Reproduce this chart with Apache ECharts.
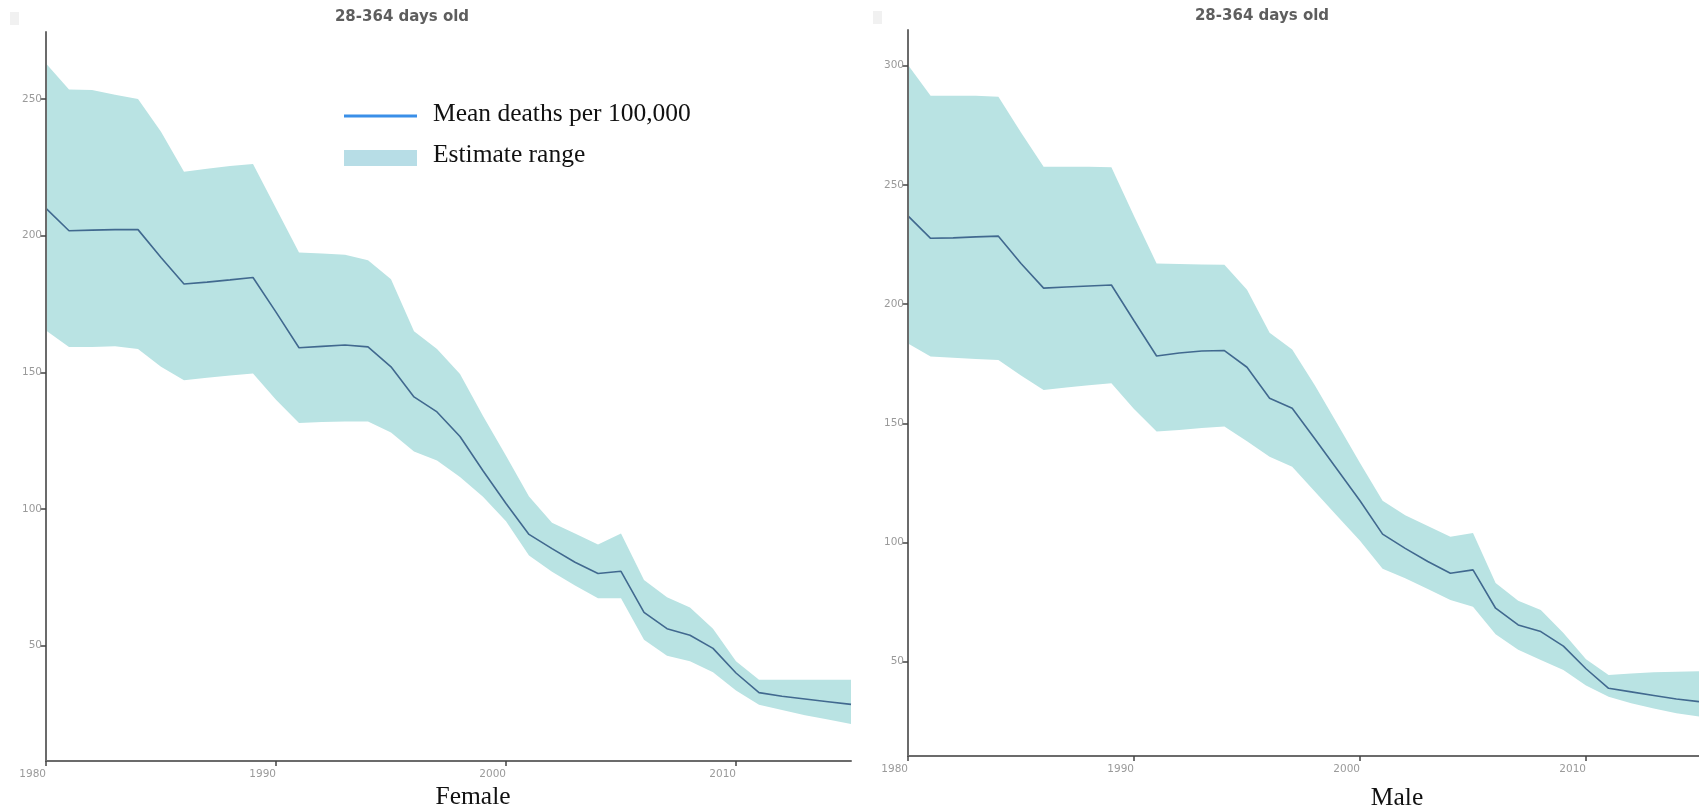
<!DOCTYPE html>
<html>
<head>
<meta charset="utf-8">
<script src="https://cdn.jsdelivr.net/npm/echarts@6/dist/echarts.min.js"></script>
<style>
  html, body { margin: 0; padding: 0; background: #fff; }
  #chart { width: 1699px; height: 810px; }
</style>
</head>
<body>
<div id="chart"></div>
<script>
// values (deaths per 100,000, 28-364 days old)
const years = ['1980', '1981', '1982', '1983', '1984', '1985', '1986', '1987', '1988', '1989',
               '1990', '1991', '1992', '1993', '1994', '1995', '1996', '1997', '1998', '1999',
               '2000', '2001', '2002', '2003', '2004', '2005', '2006', '2007', '2008', '2009',
               '2010', '2011', '2012', '2013', '2014', '2015'];

const femaleMean  = [210, 201.8, 202, 202.2, 202.2, 192, 182.3, 183, 183.8, 184.7,
                     172, 159, 159.5, 160, 159.3, 152, 141, 135.5, 126.5, 114,
                     102, 90.7, 85.5, 80.5, 76.4, 77.2, 62.2, 56.2, 53.8, 49,
                     40, 32.8, 31.5, 30.5, 29.5, 28.5];
const femaleUpper = [263, 253.5, 253.3, 251.5, 250, 238, 223.4, 224.5, 225.5, 226.2,
                     210, 193.8, 193.5, 193, 191, 184, 165, 158.5, 149.4, 134,
                     119.5, 104.6, 95, 91, 87, 91, 74, 67.7, 64, 56.2,
                     44.3, 37.5, 37.5, 37.5, 37.5, 37.5];
const femaleLower = [165.3, 159.3, 159.3, 159.5, 158.5, 152, 147.1, 148, 148.8, 149.6,
                     140, 131.5, 131.8, 132, 132, 128, 121, 117.7, 111.7, 104.5,
                     95.5, 83, 77, 72, 67.3, 67.3, 52.2, 46.3, 44.3, 40.3,
                     33.6, 28.4, 26.5, 24.5, 23, 21.3];

const maleMean  = [237, 227.6, 227.8, 228.2, 228.5, 217, 206.7, 207.2, 207.6, 208,
                   193, 178.2, 179.5, 180.3, 180.5, 173.5, 160.5, 156.3, 143.5, 130.5,
                   117.5, 103.5, 97.5, 92, 87.1, 88.5, 72.4, 65.4, 62.6, 56.5,
                   47, 38.8, 37.3, 35.8, 34.3, 33.2];
const maleUpper = [300.3, 287.4, 287.4, 287.4, 287, 272, 257.6, 257.6, 257.6, 257.4,
                   237, 217, 216.8, 216.6, 216.5, 206, 188, 181, 166, 149.7,
                   133.3, 117.5, 111.4, 106.9, 102.4, 104, 83, 75.5, 71.7, 62,
                   51, 44.4, 45, 45.5, 45.8, 46];
const maleLower = [183.5, 178, 177.5, 177, 176.5, 170, 164, 165, 166, 166.8,
                   156, 146.5, 147.2, 148, 148.6, 142.5, 136, 131.8, 121.4, 111,
                   100.7, 89, 85, 80.5, 75.9, 73, 61.5, 55, 50.7, 46.5,
                   40, 35.3, 32.5, 30.3, 28.3, 27];

const xTicks = ['1980', '1990', '2000', '2010'];
const femaleYTicks = [50, 100, 150, 200, 250];
const maleYTicks = [50, 100, 150, 200, 250, 300];

const panelTitle = '28-364 days old';
const legendNames = ['Mean deaths per 100,000', 'Estimate range'];
const panelNames = ['Female', 'Male'];

const BAND = '#b9e3e3';
const LINE = '#41698f';
const SERIF = '"Liberation Serif", "DejaVu Serif", serif';

function isTick(idx, val) {
    return xTicks.indexOf(String(val)) >= 0;
}
function diffs(hi, lo) {
    return hi.map((v, i) => +(v - lo[i]).toFixed(2));
}

function xAxisFor(gridIndex) {
    return {
        type: 'category', gridIndex: gridIndex, data: years, boundaryGap: false, z: 5,
        axisLine: { show: true, lineStyle: { color: '#6b6b6b', width: 2 } },
        axisTick: { show: true, interval: isTick, length: 5, lineStyle: { color: '#444', width: 1.5 } },
        axisLabel: { interval: isTick, align: 'right', margin: 8, color: '#9a9a9a',
                     fontSize: 10.5, fontFamily: 'DejaVu Sans' },
        splitLine: { show: false }
    };
}
function yAxisFor(gridIndex, min, max, ticks) {
    return {
        type: 'value', gridIndex: gridIndex, min: min, max: max, z: 5,
        axisLine: { show: true, lineStyle: { color: '#6b6b6b', width: 2 } },
        axisTick: { show: true, customValues: ticks, length: 6, lineStyle: { color: '#444', width: 1.5 } },
        axisLabel: { customValues: ticks, margin: 4, color: '#9a9a9a',
                     fontSize: 10.5, fontFamily: 'DejaVu Sans' },
        splitLine: { show: false }
    };
}
function bandSeries(idx, lower, upper, stack) {
    return [{
        type: 'line', xAxisIndex: idx, yAxisIndex: idx, stack: stack,
        data: lower, symbol: 'none', silent: true,
        lineStyle: { opacity: 0 }
    }, {
        type: 'line', xAxisIndex: idx, yAxisIndex: idx, stack: stack,
        data: diffs(upper, lower), symbol: 'none', silent: true,
        lineStyle: { opacity: 0 },
        areaStyle: { color: BAND, opacity: 1 }
    }];
}
function meanSeries(idx, mean) {
    return {
        type: 'line', xAxisIndex: idx, yAxisIndex: idx,
        data: mean, symbol: 'none', silent: true,
        lineStyle: { color: LINE, width: 1.6 }
    };
}

const chart = echarts.init(document.getElementById('chart'), null, { renderer: 'canvas' });

const option = {
    animation: false,
    backgroundColor: '#fff',
    grid: [
        { left: 46, top: 32, width: 805, height: 729 },
        { left: 908, top: 30, width: 801, height: 726 }
    ],
    xAxis: [xAxisFor(0), xAxisFor(1)],
    yAxis: [
        yAxisFor(0, 7.8, 274.5, femaleYTicks),
        yAxisFor(1, 10.4, 315, maleYTicks)
    ],
    series: [
        ...bandSeries(0, femaleLower, femaleUpper, 'femaleBand'),
        meanSeries(0, femaleMean),
        ...bandSeries(1, maleLower, maleUpper, 'maleBand'),
        meanSeries(1, maleMean)
    ],
    graphic: [
        // faint menu marks in the corners
        { type: 'rect', shape: { x: 10, y: 12, width: 9, height: 13 }, style: { fill: '#f1f1f1' } },
        { type: 'rect', shape: { x: 873, y: 11, width: 9, height: 13 }, style: { fill: '#f1f1f1' } },
        // panel titles
        { type: 'text', style: { text: panelTitle, x: 402, y: 17, align: 'center', verticalAlign: 'middle',
            font: 'bold 15px "DejaVu Sans"', fill: '#5e5e5e' } },
        { type: 'text', style: { text: panelTitle, x: 1262, y: 16, align: 'center', verticalAlign: 'middle',
            font: 'bold 15px "DejaVu Sans"', fill: '#5e5e5e' } },
        // legend
        { type: 'line', shape: { x1: 344, y1: 116, x2: 417, y2: 116 }, style: { stroke: '#3a8fe8', lineWidth: 3 } },
        { type: 'rect', shape: { x: 344, y: 150, width: 73, height: 16 }, style: { fill: '#b7dde6' } },
        { type: 'text', style: { text: legendNames[0], x: 433, y: 114, verticalAlign: 'middle',
            font: '25.5px ' + SERIF, fill: '#111' } },
        { type: 'text', style: { text: legendNames[1], x: 433, y: 155, verticalAlign: 'middle',
            font: '25.5px ' + SERIF, fill: '#111' } },
        // panel captions
        { type: 'text', style: { text: panelNames[0], x: 473, y: 797, align: 'center', verticalAlign: 'middle',
            font: '25.5px ' + SERIF, fill: '#111' } },
        { type: 'text', style: { text: panelNames[1], x: 1397, y: 798, align: 'center', verticalAlign: 'middle',
            font: '25.5px ' + SERIF, fill: '#111' } }
    ]
};

chart.setOption(option);
</script>
</body>
</html>
